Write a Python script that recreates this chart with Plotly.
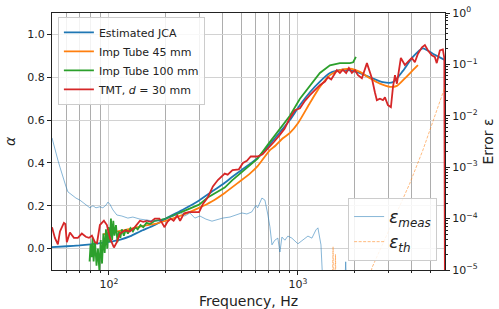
import numpy as np
import plotly.graph_objects as go

# ---------------- data ----------------
# Estimated JCA
jca_f = [50, 60, 70, 80, 90, 100, 115, 130, 146, 175, 200, 250, 300, 350, 400, 450, 500,
         606, 700, 832, 907, 1025, 1157, 1307, 1477, 1730, 2051, 2404, 2818, 3184, 3594,
         4057, 4581, 5173, 6000]
jca_a = [0.007, 0.011, 0.015, 0.02, 0.025, 0.031, 0.042, 0.058, 0.08, 0.11, 0.14, 0.185,
         0.225, 0.265, 0.30, 0.335, 0.365, 0.42, 0.48, 0.56, 0.60, 0.67, 0.73, 0.78, 0.82,
         0.835, 0.825, 0.80, 0.777, 0.777, 0.83, 0.895, 0.935, 0.91, 0.88]

# Impedance tube 45 mm
t45_f = [93, 100, 110, 120, 135, 150, 175, 200, 250, 300, 350, 410, 487, 557, 612, 711,
         760, 832, 907, 1000, 1157, 1307, 1477, 1668, 1884, 2129, 2404, 2716, 3070, 3340,
         3680, 4057, 4315]
t45_a = [0.065, 0.075, 0.08, 0.085, 0.095, 0.105, 0.115, 0.13, 0.16, 0.19, 0.22, 0.26,
         0.31, 0.35, 0.385, 0.46, 0.48, 0.515, 0.54, 0.585, 0.68, 0.755, 0.81, 0.833, 0.84,
         0.825, 0.795, 0.77, 0.755, 0.76, 0.795, 0.833, 0.857]

# Impedance tube 100 mm
t100_f = [79, 80, 81, 82, 83, 84.5, 86, 87.5, 89, 90.5, 92, 93.5, 95, 96.5, 98, 99.5, 101,
          102.5, 104, 105.5, 107, 109, 111, 113, 115, 117, 120, 123, 126, 130, 134, 138,
          142, 147, 152, 158, 165, 175, 190, 200, 220, 250, 280, 300, 335, 380, 410, 450,
          500, 560, 612, 700, 800, 907, 1025, 1157, 1307, 1477, 1668, 1884, 1960, 2027]
t100_a = [-0.06, 0.02, -0.04, 0.05, -0.06, 0.03, -0.08, 0.0, -0.1, 0.04, -0.07, 0.07,
          -0.02, 0.09, 0.0, 0.10, 0.03, 0.14, 0.04, 0.13, 0.06, 0.11, 0.03, 0.08, 0.05,
          0.09, 0.06, 0.09, 0.07, 0.095, 0.08, 0.10, 0.09, 0.11, 0.10, 0.12, 0.115, 0.13,
          0.135, 0.14, 0.155, 0.175, 0.195, 0.205, 0.24, 0.27, 0.285, 0.32, 0.355, 0.39,
          0.42, 0.49, 0.56, 0.62, 0.70, 0.76, 0.82, 0.856, 0.866, 0.866, 0.87, 0.895]

# TMT, d = 30 mm
tmt_f = [50, 51.8, 53.7, 55.1, 57.8, 58.8, 59.9, 62.2, 65.3, 68.5, 71.9, 75.5, 78.4, 81.3,
         84.3, 86.5, 89.6, 94.1, 97.6, 101.2, 106.3, 110.2, 114.3, 121.5, 129, 137.2, 146,
         152, 159, 167, 175, 185, 191, 197, 204, 212, 220, 230, 238, 250, 265, 281, 300,
         315, 334, 355, 377, 410, 425, 451, 487, 512, 537, 563, 612, 650, 700, 750, 800,
         850, 907, 964, 1025, 1089, 1157, 1230, 1307, 1390, 1442, 1500, 1607, 1668, 1730,
         1800, 1861, 1930, 2003, 2078, 2180, 2318, 2462, 2554, 2616, 2716, 2818, 2887, 2993,
         3104, 3184, 3263, 3340, 3504, 3680, 3850, 4007, 4156, 4315, 4533, 4696, 4871, 5107,
         5300, 5426, 5636, 5845, 5950, 6000]
tmt_a = [0.10, 0.05, 0.02, 0.08, 0.12, 0.115, 0.03, 0.075, 0.05, 0.05, 0.07, 0.055, 0.05,
         0.06, 0.03, 0.025, 0.11, 0.13, 0.11, 0.05, 0.005, 0.03, 0.07, 0.085, 0.08, 0.10,
         0.13, 0.125, 0.13, 0.125, 0.14, 0.14, 0.12, 0.10, 0.125, 0.14, 0.13, 0.155, 0.13,
         0.165, 0.17, 0.17, 0.17, 0.21, 0.24, 0.29, 0.32, 0.35, 0.345, 0.366, 0.37, 0.40,
         0.41, 0.43, 0.43, 0.44, 0.47, 0.50, 0.53, 0.56, 0.61, 0.646, 0.655, 0.69, 0.716,
         0.74, 0.763, 0.78, 0.80, 0.79, 0.833, 0.82, 0.835, 0.82, 0.843, 0.82, 0.833, 0.81,
         0.795, 0.866, 0.795, 0.73, 0.693, 0.70, 0.693, 0.706, 0.67, 0.66, 0.755, 0.81,
         0.77, 0.89, 0.857, 0.875, 0.89, 0.87, 0.91, 0.94, 0.95, 0.926, 0.903, 0.895,
         0.866, 0.925, 0.93, 0.89, -0.3]

# Measurement error (log10 of epsilon)
meas_f = [50, 51.8, 53.7, 55.1, 57.1, 59.2, 60.7, 63.7, 66.9, 70.2, 73.7, 76.5, 79.3, 82.3,
          85.4, 89.6, 92.9, 96.4, 98.8, 101.2, 105, 110.2, 117, 126, 134, 146, 159, 175,
          191, 210, 226, 238, 252, 268, 285, 303, 326, 351, 377, 400, 437, 470, 505, 537,
          570, 599, 612, 645, 669, 694, 711, 729, 755, 783, 803, 823, 853, 885, 929, 1000,
          1063, 1130, 1186, 1245, 1276, 1324, 1356, 1400, 1600, 1760, 1790, 1820, 2000,
          3000, 6000]
meas_log = [-2.43, -2.67, -2.86, -3.0, -3.21, -3.37, -3.48, -3.54, -3.60, -3.64, -3.70,
            -3.74, -3.79, -3.75, -3.79, -3.77, -3.79, -3.74, -3.68, -3.72, -3.83, -3.93,
            -3.95, -3.99, -3.97, -4.01, -4.03, -4.05, -4.03, -3.97, -3.93, -3.87, -3.95,
            -3.89, -3.99, -3.95, -4.01, -4.05, -4.01, -3.99, -3.97, -3.93, -3.89, -3.91,
            -3.87, -3.74, -3.79, -3.60, -3.64, -3.93, -4.16, -4.51, -4.42, -4.38, -4.65,
            -4.36, -4.42, -4.34, -4.38, -4.49, -4.42, -4.34, -4.38, -4.22, -4.18, -4.51,
            -5.3, -5.8, -6.0, -5.5, -4.84, -5.6, -6.2, -6.5, -6.5]

# Theoretical error (log10 of epsilon)
th_f = [50, 1500, 1535, 1550, 1580, 1610, 2300, 2462, 3070, 3913, 4581, 5308, 5995]
th_log = [-7.0, -6.5, -4.55, -6.2, -4.7, -6.5, -5.6, -4.96, -4.18, -3.31, -2.67, -2.0, -1.44]

x_major = [100, 1000]
x_major_text = ["10<sup>2</sup>", "10<sup>3</sup>"]
x_minor = [60, 70, 80, 90, 200, 300, 400, 500, 600, 700, 800, 900,
           2000, 3000, 4000, 5000]
y_ticks = [0.0, 0.2, 0.4, 0.6, 0.8, 1.0]
y_text = ["0.0", "0.2", "0.4", "0.6", "0.8", "1.0"]
y2_ticks = [1e-5, 1e-4, 1e-3, 1e-2, 1e-1, 1e0]
y2_text = ["10<sup>−5</sup>", "10<sup>−4</sup>", "10<sup>−3</sup>", "10<sup>−2</sup>",
           "10<sup>−1</sup>", "10<sup>0</sup>"]
y2_minor = [m * 10.0 ** e for e in range(-5, 0) for m in range(2, 10)]

# ---------------- figure ----------------
C_BLUE, C_ORANGE, C_GREEN, C_RED = "#1f77b4", "#ff7f0e", "#2ca02c", "#d62728"
FONT = "DejaVu Sans"

fig = go.Figure()
fig.add_trace(go.Scatter(x=jca_f, y=jca_a, mode="lines", name="Estimated JCA",
                         line=dict(color=C_BLUE, width=1.8, shape="spline", smoothing=0.6)))
fig.add_trace(go.Scatter(x=t45_f, y=t45_a, mode="lines", name="Imp Tube 45 mm",
                         line=dict(color=C_ORANGE, width=1.8, shape="spline", smoothing=0.6)))
fig.add_trace(go.Scatter(x=t100_f, y=t100_a, mode="lines", name="Imp Tube 100 mm",
                         line=dict(color=C_GREEN, width=1.8)))
fig.add_trace(go.Scatter(x=tmt_f, y=tmt_a, mode="lines", name="TMT, <i>d</i> = 30 mm",
                         line=dict(color=C_RED, width=1.8)))

fig.add_trace(go.Scatter(x=meas_f, y=[10.0 ** v for v in meas_log], mode="lines",
                         name="<i>ε</i><sub><i>meas</i></sub>", yaxis="y2", legend="legend2",
                         line=dict(color="rgba(31,119,180,0.6)", width=0.9)))
fig.add_trace(go.Scatter(x=th_f, y=[10.0 ** v for v in th_log], mode="lines",
                         name="<i>ε</i><sub><i>th</i></sub>", yaxis="y2", legend="legend2",
                         line=dict(color="rgba(255,127,14,0.6)", width=0.9, dash="3px,1.5px")))

axis_line = dict(showline=True, linecolor="#222222", linewidth=1, zeroline=False,
                 automargin=False)
fig.update_layout(
    width=499, height=309,
    margin=dict(l=52, r=54, t=13, b=39, autoexpand=False),
    paper_bgcolor="white", plot_bgcolor="white",
    font=dict(family=FONT, size=11, color="#222222"),
    showlegend=True,
    xaxis=dict(type="log", range=[np.log10(50), np.log10(6000)],
               tickvals=x_major, ticktext=x_major_text,
               ticks="outside", ticklen=4, tickcolor="#222222",
               showgrid=True, gridcolor="#d2d2d2", gridwidth=1.3,
               minor=dict(tickvals=x_minor, ticks="outside", ticklen=2,
                          tickcolor="#222222", showgrid=True,
                          gridcolor="#adadad", gridwidth=0.7),
               mirror=True,
               title=dict(text="Frequency, Hz", font=dict(size=14), standoff=5),
               **axis_line),
    yaxis=dict(range=[-0.1, 1.1], tickvals=y_ticks, ticktext=y_text,
               ticks="outside", ticklen=4, tickcolor="#222222",
               showgrid=True, gridcolor="#d2d2d2", gridwidth=1.3,
               title=dict(text="<i>α</i>", font=dict(size=14), standoff=8),
               **axis_line),
    yaxis2=dict(type="log", range=[-5, 0], overlaying="y", side="right",
                tickvals=y2_ticks, ticktext=y2_text,
                ticks="outside", ticklen=4, tickcolor="#222222",
                minor=dict(tickvals=y2_minor, ticks="outside", ticklen=2,
                           tickcolor="#222222", showgrid=False),
                showgrid=False,
                title=dict(text="Error ε", font=dict(size=14), standoff=6),
                **axis_line),
    legend=dict(x=0.015, y=0.985, xanchor="left", yanchor="top",
                bgcolor="rgba(255,255,255,0.85)", bordercolor="#cccccc", borderwidth=1,
                font=dict(size=11), tracegroupgap=0, itemwidth=30),
    legend2=dict(x=0.98, y=0.035, xanchor="right", yanchor="bottom",
                 bgcolor="rgba(255,255,255,0.85)", bordercolor="#cccccc", borderwidth=1,
                 font=dict(size=17), itemwidth=30),
)

fig.write_html("out.html",
               config=dict(displayModeBar=False),
               post_script="document.body.style.margin='0px';"
                           "document.body.style.overflow='hidden';")
